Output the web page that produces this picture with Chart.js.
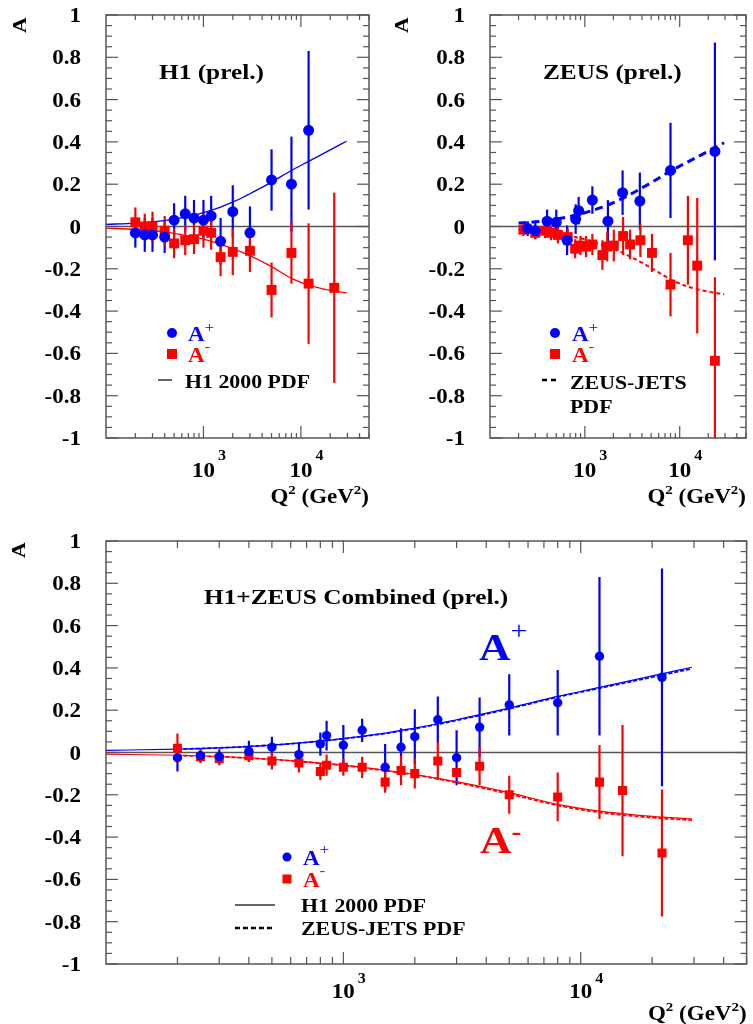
<!DOCTYPE html>
<html>
<head>
<meta charset="utf-8">
<script src="https://cdn.jsdelivr.net/npm/chart.js@4.4.0/dist/chart.umd.min.js"></script>
<style>
  body { margin: 0; background: #fff; width: 753px; height: 1024px; position: relative; overflow: hidden; }
  canvas { position: absolute; }
</style>
</head>
<body>
<canvas id="h1" width="380" height="515" style="left:0;top:0"></canvas>
<canvas id="zeus" width="373" height="515" style="left:380px;top:0"></canvas>
<canvas id="comb" width="753" height="509" style="left:0;top:515px"></canvas>
<script>
// ---- axis ticks ----
const yTickValues = [-1, -0.8, -0.6, -0.4, -0.2, 0, 0.2, 0.4, 0.6, 0.8, 1];
const yTickLabels = ['-1', '-0.8', '-0.6', '-0.4', '-0.2', '0', '0.2', '0.4', '0.6', '0.8', '1'];
const xTickValues = [1000, 10000];
const xTickExponents = ['3', '4'];

// ---- H1 (prel.) ----
const h1PlusQ2 = [200, 250, 300, 400, 500, 650, 800, 1000, 1200, 1500, 2000, 3000, 5000, 8000, 12000];
const h1PlusA = [-0.03, -0.04, -0.04, -0.05, 0.03, 0.06, 0.04, 0.03, 0.05, -0.07, 0.07, -0.03, 0.22, 0.20, 0.455];
const h1PlusErr = [0.07, 0.08, 0.08, 0.075, 0.08, 0.085, 0.085, 0.095, 0.095, 0.11, 0.125, 0.125, 0.145, 0.225, 0.375];
const h1MinusQ2 = [200, 250, 300, 400, 500, 650, 800, 1000, 1200, 1500, 2000, 3000, 5000, 8000, 12000, 22000];
const h1MinusA = [0.02, 0.0, 0.0, -0.02, -0.08, -0.065, -0.06, -0.02, -0.03, -0.145, -0.12, -0.115, -0.30, -0.125, -0.27, -0.29];
const h1MinusErr = [0.07, 0.06, 0.07, 0.07, 0.07, 0.07, 0.07, 0.08, 0.08, 0.09, 0.11, 0.10, 0.13, 0.145, 0.285, 0.45];

// ---- ZEUS (prel.) ----
const zeusPlusQ2 = [250, 300, 400, 500, 650, 800, 860, 1200, 1750, 2500, 3800, 8000, 23500];
const zeusPlusA = [-0.01, -0.02, 0.025, 0.02, -0.065, 0.035, 0.075, 0.125, 0.025, 0.16, 0.12, 0.265, 0.355];
const zeusPlusErr = [0.035, 0.04, 0.055, 0.06, 0.07, 0.07, 0.065, 0.065, 0.10, 0.105, 0.135, 0.225, 0.515];
const zeusMinusQ2 = [225, 300, 380, 440, 520, 660, 790, 900, 1030, 1200, 1530, 1720, 2020, 2530, 3000, 3850, 5100, 8000, 12200, 15300, 23500];
const zeusMinusA = [-0.015, -0.03, -0.02, -0.03, -0.04, -0.05, -0.105, -0.09, -0.095, -0.085, -0.135, -0.095, -0.09, -0.045, -0.085, -0.065, -0.125, -0.275, -0.065, -0.185, -0.635];
const zeusMinusErr = [0.03, 0.03, 0.035, 0.035, 0.04, 0.04, 0.045, 0.045, 0.05, 0.05, 0.07, 0.07, 0.075, 0.09, 0.07, 0.08, 0.09, 0.15, 0.21, 0.32, 0.395];

// ---- H1+ZEUS Combined (prel.) ----
const combPlusQ2 = [200, 250, 300, 400, 500, 650, 800, 850, 1000, 1200, 1500, 1750, 2000, 2500, 3000, 3750, 5000, 8000, 12000, 22000];
const combPlusA = [-0.025, -0.015, -0.02, 0.005, 0.025, -0.01, 0.04, 0.08, 0.035, 0.105, -0.07, 0.025, 0.075, 0.155, -0.025, 0.12, 0.225, 0.235, 0.455, 0.355];
const combPlusErr = [0.065, 0.03, 0.035, 0.05, 0.05, 0.055, 0.055, 0.07, 0.095, 0.055, 0.11, 0.09, 0.13, 0.11, 0.13, 0.14, 0.145, 0.155, 0.375, 0.515];
const combMinusQ2 = [200, 250, 300, 400, 500, 650, 800, 850, 1000, 1200, 1500, 1750, 2000, 2500, 3000, 3750, 5000, 8000, 12000, 15000, 22000];
const combMinusA = [0.02, -0.02, -0.03, -0.015, -0.04, -0.05, -0.09, -0.06, -0.07, -0.07, -0.14, -0.085, -0.10, -0.04, -0.095, -0.065, -0.20, -0.21, -0.14, -0.18, -0.475];
const combMinusErr = [0.07, 0.03, 0.03, 0.03, 0.04, 0.045, 0.04, 0.05, 0.04, 0.05, 0.05, 0.07, 0.07, 0.09, 0.02, 0.09, 0.09, 0.115, 0.175, 0.31, 0.30];

// ---- PDF predictions ----
const h1PdfQ2 = [100, 200, 300, 500, 700, 1000, 1500, 2000, 2500, 3000, 5000, 8000, 12000, 20000, 29400];
const h1PdfPlus = [0.010, 0.016, 0.022, 0.035, 0.048, 0.066, 0.092, 0.116, 0.136, 0.155, 0.210, 0.265, 0.308, 0.362, 0.403];
const h1PdfMinus = [-0.008, -0.013, -0.019, -0.032, -0.044, -0.060, -0.084, -0.104, -0.122, -0.138, -0.190, -0.245, -0.277, -0.302, -0.314];
const zeusPdfQ2 = [200, 300, 500, 700, 1000, 1500, 2000, 3000, 5000, 8000, 12000, 20000, 29400];
const zeusPdfPlus = [0.016, 0.022, 0.035, 0.048, 0.065, 0.090, 0.113, 0.152, 0.207, 0.262, 0.304, 0.356, 0.396];
const zeusPdfMinus = [-0.014, -0.020, -0.033, -0.045, -0.061, -0.086, -0.106, -0.142, -0.196, -0.250, -0.283, -0.308, -0.320];

const BLUE = 'rgb(0,0,255)';
const RED = 'rgb(255,0,0)';
const FRAME = '#555';
const SERIF = '"Liberation Serif", "DejaVu Serif", serif';
const SX = 1.15; // the original lettering is a bit wide

const pts = (xs, ys) => xs.map((x, i) => ({ x, y: ys[i] }));

function line(ctx, x1, y1, x2, y2) {
    ctx.beginPath();
    ctx.moveTo(x1, y1);
    ctx.lineTo(x2, y2);
    ctx.stroke();
}

function measure(ctx, s, size, bold) {
    ctx.font = `${bold ? 'bold ' : ''}${size}px ${SERIF}`;
    return ctx.measureText(s).width * SX;
}

// parts: [text, size, raise, bold]
function rich(ctx, parts, x, y, color, align) {
    const ws = parts.map(p => measure(ctx, p[0], p[1], p[3] !== false));
    const total = ws.reduce((a, b) => a + b, 0);
    let cx = align === 'right' ? x - total : align === 'center' ? x - total / 2 : x;
    parts.forEach((p, i) => {
        ctx.save();
        ctx.font = `${p[3] !== false ? 'bold ' : ''}${p[1]}px ${SERIF}`;
        ctx.fillStyle = color || '#000';
        ctx.textAlign = 'left';
        ctx.textBaseline = 'alphabetic';
        ctx.translate(cx, y - (p[2] || 0));
        ctx.scale(SX, 1);
        ctx.fillText(p[0], 0, 0);
        ctx.restore();
        cx += ws[i];
    });
    return total;
}

function marker(ctx, kind, x, y, r, color) {
    ctx.fillStyle = color;
    if (kind === 'circle') {
        ctx.beginPath();
        ctx.arc(x, y, r, 0, Math.PI * 2);
        ctx.fill();
    } else {
        ctx.fillRect(x - r, y - r, 2 * r, 2 * r);
    }
}

const axesPlugin = (cfg) => ({
    id: 'axes',
    beforeDatasetsDraw(chart) {
        const { ctx, chartArea: a, scales: { x, y } } = chart;
        ctx.save();
        ctx.strokeStyle = FRAME;
        ctx.lineWidth = 1.5;
        const y0 = y.getPixelForValue(0);
        line(ctx, a.left, y0, a.right, y0);

        ctx.beginPath();
        ctx.rect(a.left, a.top, a.right - a.left, a.bottom - a.top);
        ctx.clip();
        chart.data.datasets.forEach(ds => {
            if (!ds.err) return;
            ctx.strokeStyle = ds.backgroundColor;
            ctx.lineWidth = 2.2;
            ds.data.forEach((p, j) => {
                const px = x.getPixelForValue(p.x);
                line(ctx, px, y.getPixelForValue(p.y - ds.err[j]), px, y.getPixelForValue(p.y + ds.err[j]));
            });
        });
        ctx.restore();
    },
    afterDraw(chart) {
        const { ctx, chartArea: a, scales: { x, y } } = chart;
        ctx.save();
        ctx.strokeStyle = FRAME;
        ctx.lineWidth = 1.5;
        ctx.strokeRect(a.left, a.top, a.right - a.left, a.bottom - a.top);

        ctx.lineWidth = 1.2;
        for (let k = -20; k <= 20; k++) {
            const py = y.getPixelForValue(k / 20);
            const len = k % 4 === 0 ? 12 : 6;
            line(ctx, a.left, py, a.left + len, py);
            line(ctx, a.right, py, a.right - len, py);
        }
        for (const dec of [100, 1000, 10000]) {
            for (let m = 1; m <= 9; m++) {
                const v = dec * m;
                if (v <= 100 || v > x.max) continue;
                const px = x.getPixelForValue(v);
                const len = m === 1 ? 12 : cfg.xMinor;
                line(ctx, px, a.bottom, px, a.bottom - len);
                line(ctx, px, a.top, px, a.top + len);
            }
        }

        yTickValues.forEach((v, i) => {
            rich(ctx, [[yTickLabels[i], 20]], a.left - 25, y.getPixelForValue(v) + 7, '#000', 'right');
        });
        xTickValues.forEach((v, i) => {
            const px = x.getPixelForValue(v);
            const w = rich(ctx, [['10', 20]], px, a.bottom + cfg.xLab, '#000', 'center');
            rich(ctx, [[xTickExponents[i], 14]], px + w / 2 + 3, a.bottom + cfg.xLab - cfg.supRaise, '#000');
        });
        rich(ctx, [['Q', 20], ['2', 13, 9], [' (GeV', 20], ['2', 13, 9], [')', 20]],
            a.right, a.bottom + cfg.qLab, '#000', 'right');

        ctx.save();
        ctx.translate(cfg.aX, cfg.aY);
        ctx.rotate(-Math.PI / 2);
        rich(ctx, [['A', 19]], 0, 6, '#000', 'center');
        ctx.restore();

        cfg.extra(ctx);
        ctx.restore();
    }
});

const markerSets = (plusQ2, plusA, plusErr, minusQ2, minusA, minusErr, rc, rs) => [
    { data: pts(plusQ2, plusA), err: plusErr, backgroundColor: BLUE, pointStyle: 'circle', pointRadius: rc, borderWidth: 0 },
    { data: pts(minusQ2, minusA), err: minusErr, backgroundColor: RED, pointStyle: 'rect', pointRadius: rs, borderWidth: 0 },
];

const curve = (xs, ys, color, width, dash) => ({
    data: pts(xs, ys), showLine: true, borderColor: color, borderWidth: width, borderDash: dash || [],
    pointRadius: 0, cubicInterpolationMode: 'monotone', fill: false,
});

const makeChart = (id, datasets, padding, cfg) => new Chart(document.getElementById(id), {
    type: 'scatter',
    data: { datasets },
    plugins: [axesPlugin(cfg)],
    options: {
        responsive: false,
        animation: false,
        events: [],
        layout: { padding },
        plugins: { legend: { display: false }, tooltip: { enabled: false } },
        scales: {
            x: { type: 'logarithmic', min: 100, max: 50000, display: false },
            y: { type: 'linear', min: -1, max: 1, display: false },
        },
    },
});

makeChart('h1', [
    ...markerSets(h1PlusQ2, h1PlusA, h1PlusErr, h1MinusQ2, h1MinusA, h1MinusErr, 5.5, 7),
    curve(h1PdfQ2, h1PdfPlus, BLUE, 1.3),
    curve(h1PdfQ2, h1PdfMinus, RED, 1.3),
], { left: 106, top: 15, right: 11, bottom: 77 }, {
    xMinor: 5, xLab: 39, supRaise: 17, qLab: 65, aX: 20, aY: 25,
    extra(ctx) {
        rich(ctx, [['H1 (prel.)', 22]], 159, 79, '#000');
        marker(ctx, 'circle', 172, 333, 5, BLUE);
        rich(ctx, [['A', 20], ['+', 15, 9, false]], 188, 341, BLUE);
        marker(ctx, 'rect', 172, 354, 5, RED);
        rich(ctx, [['A', 20], ['-', 15, 11, false]], 188, 362, RED);
        ctx.strokeStyle = '#333';
        ctx.lineWidth = 1.5;
        line(ctx, 158, 380, 172, 380);
        rich(ctx, [['H1 2000 PDF', 19]], 185, 388, '#000');
    },
});

makeChart('zeus', [
    ...markerSets(zeusPlusQ2, zeusPlusA, zeusPlusErr, zeusMinusQ2, zeusMinusA, zeusMinusErr, 5.5, 7),
    curve(zeusPdfQ2, zeusPdfPlus, BLUE, 3, [8, 5]),
    curve(zeusPdfQ2, zeusPdfMinus, RED, 2, [4, 3]),
], { left: 110, top: 15, right: 1, bottom: 77 }, {
    xMinor: 5, xLab: 39, supRaise: 17, qLab: 65, aX: 22, aY: 25,
    extra(ctx) {
        rich(ctx, [['ZEUS (prel.)', 22]], 163, 79, '#000');
        marker(ctx, 'circle', 175, 333, 5, BLUE);
        rich(ctx, [['A', 20], ['+', 15, 9, false]], 192, 341, BLUE);
        marker(ctx, 'rect', 175, 354, 5, RED);
        rich(ctx, [['A', 20], ['-', 15, 11, false]], 192, 362, RED);
        ctx.strokeStyle = '#000';
        ctx.lineWidth = 2.5;
        ctx.setLineDash([5, 4]);
        line(ctx, 162, 380, 177, 380);
        ctx.setLineDash([]);
        rich(ctx, [['ZEUS-JETS', 19]], 190, 389, '#000');
        rich(ctx, [['PDF', 19]], 190, 413, '#000');
    },
});

makeChart('comb', [
    ...markerSets(combPlusQ2, combPlusA, combPlusErr, combMinusQ2, combMinusA, combMinusErr, 4.7, 6.4),
    curve(zeusPdfQ2, zeusPdfPlus, BLUE, 1.8, [4, 2]),
    curve(zeusPdfQ2, zeusPdfMinus, RED, 1.8, [4, 2]),
    curve(h1PdfQ2, h1PdfPlus, BLUE, 1.2),
    curve(h1PdfQ2, h1PdfMinus, RED, 1.2),
], { left: 106, top: 26, right: 1, bottom: 60 }, {
    xMinor: 7, xLab: 34, supRaise: 15, qLab: 56, aX: 19, aY: 35,
    extra(ctx) {
        rich(ctx, [['H1+ZEUS Combined (prel.)', 22]], 204, 89, '#000');
        rich(ctx, [['A', 38], ['+', 26, 21, false]], 479, 145, BLUE);
        rich(ctx, [['A', 38], ['-', 26, 13]], 480, 338, RED);
        marker(ctx, 'circle', 287, 342, 4.5, BLUE);
        rich(ctx, [['A', 20], ['+', 15, 11, false]], 303, 350, BLUE);
        marker(ctx, 'rect', 287, 364, 4.5, RED);
        rich(ctx, [['A', 20], ['-', 15, 12, false]], 303, 372, RED);
        ctx.strokeStyle = '#333';
        ctx.lineWidth = 1.3;
        line(ctx, 235, 390, 275, 390);
        ctx.strokeStyle = '#000';
        ctx.lineWidth = 2.5;
        ctx.setLineDash([5, 3]);
        line(ctx, 235, 413, 275, 413);
        ctx.setLineDash([]);
        rich(ctx, [['H1 2000 PDF', 19]], 301, 397, '#000');
        rich(ctx, [['ZEUS-JETS PDF', 19]], 301, 420, '#000');
    },
});
</script>
</body>
</html>
